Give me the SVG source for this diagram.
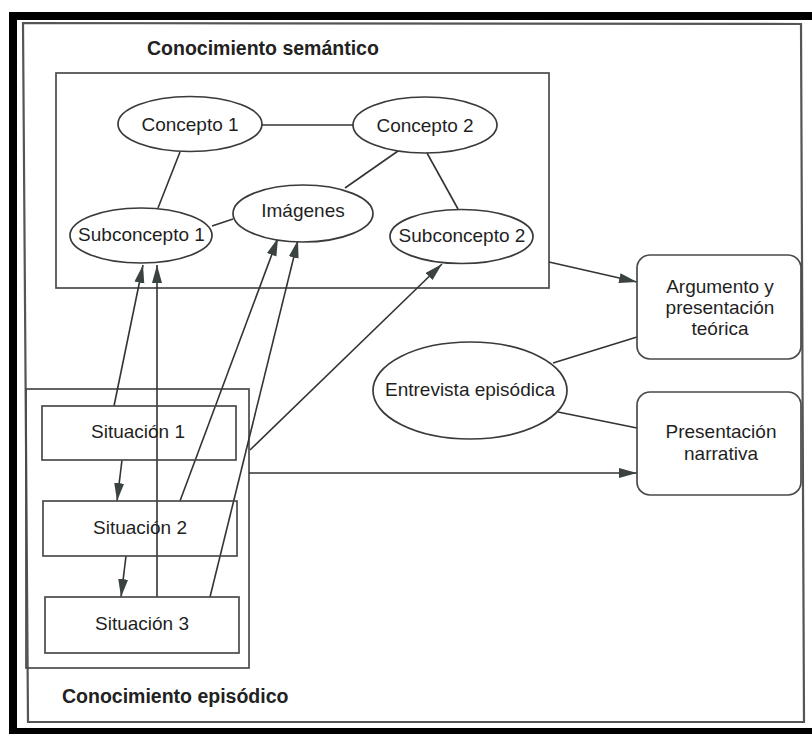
<svg xmlns="http://www.w3.org/2000/svg" width="812" height="734" viewBox="0 0 812 734">
  <style>
    .frame { fill: none; stroke: #555; stroke-width: 2.2; }
    .box { fill: none; stroke: #4a4a4a; stroke-width: 1.7; }
    .node { fill: #fff; stroke: #3a3a3a; stroke-width: 1.7; }
    .lbl { font-family: "Liberation Sans", Arial, sans-serif; font-size: 19px; fill: #1f1f1f; text-anchor: middle; }
    .head { font-family: "Liberation Sans", Arial, sans-serif; font-size: 19.5px; font-weight: bold; fill: #222; }
    .link { fill: none; stroke: #333; stroke-width: 1.6; }
    .arrow { fill: none; stroke: #333; stroke-width: 1.6; marker-end: url(#tip); }
  </style>
  <defs>
    <marker id="tip" markerUnits="userSpaceOnUse" markerWidth="19" markerHeight="11" refX="18" refY="5" orient="auto">
      <path d="M0,0 L18,5 L0,10 z" fill="#3b4242"/>
    </marker>
  </defs>

  <!-- page background and dark border -->
  <rect x="0" y="0" width="812" height="734" fill="#fff"/>
  <path d="M9,12 H812 V20 H17 V728 H812 V734 H9 Z" fill="#000"/>
  <polygon class="frame" points="23,23 801,24 804,722 28,722"/>

  <!-- region containers -->
  <g id="semantic-area">
    <rect class="box" x="56" y="73" width="493" height="215"/>
    <text class="head" x="147" y="55">Conocimiento semántico</text>
  </g>
  <g id="episodic-area">
    <rect class="box" x="26" y="389" width="223" height="279"/>
    <text class="head" x="62" y="703">Conocimiento episódico</text>
  </g>

  <!-- connectors -->
  <g id="connectors">
    <line class="link" x1="262" y1="125" x2="353" y2="125"/>
    <line class="link" x1="180" y1="152" x2="158" y2="208"/>
    <line class="link" x1="398" y1="151" x2="345" y2="188"/>
    <line class="link" x1="427" y1="153" x2="458" y2="209"/>
    <line class="link" x1="212" y1="226" x2="233" y2="219"/>
    <line class="link" x1="553" y1="363" x2="637" y2="337"/>
    <line class="link" x1="558" y1="412" x2="637" y2="428"/>

    <line class="arrow" x1="114" y1="406" x2="143" y2="265"/>
    <line class="arrow" x1="157" y1="597" x2="157" y2="265"/>
    <line class="arrow" x1="180" y1="501" x2="278" y2="238"/>
    <line class="arrow" x1="210" y1="597" x2="298" y2="240"/>
    <line class="arrow" x1="250" y1="450" x2="442" y2="264"/>
    <line class="arrow" x1="122" y1="460" x2="117" y2="501"/>
    <line class="arrow" x1="126" y1="556" x2="121" y2="597"/>
    <line class="arrow" x1="549" y1="262" x2="637" y2="282"/>
    <line class="arrow" x1="249" y1="473" x2="637" y2="473"/>
  </g>

  <!-- semantic knowledge nodes -->
  <g id="concepto-1">
    <ellipse class="node" cx="190" cy="124" rx="72" ry="27.5"/>
    <text class="lbl" x="190" y="131">Concepto 1</text>
  </g>
  <g id="concepto-2">
    <ellipse class="node" cx="425" cy="125" rx="72" ry="28"/>
    <text class="lbl" x="425" y="132">Concepto 2</text>
  </g>
  <g id="imagenes">
    <ellipse class="node" cx="303" cy="213.5" rx="70" ry="28.5"/>
    <text class="lbl" x="303" y="217">Imágenes</text>
  </g>
  <g id="subconcepto-1">
    <ellipse class="node" cx="141" cy="235.5" rx="71" ry="27.5"/>
    <text class="lbl" x="141.5" y="241">Subconcepto 1</text>
  </g>
  <g id="subconcepto-2">
    <ellipse class="node" cx="461.5" cy="236.5" rx="71.5" ry="27"/>
    <text class="lbl" x="462" y="242">Subconcepto 2</text>
  </g>

  <!-- episodic knowledge nodes -->
  <g id="situacion-1">
    <rect class="box" x="42" y="406" width="194" height="54"/>
    <text class="lbl" x="138" y="438">Situación 1</text>
  </g>
  <g id="situacion-2">
    <rect class="box" x="43" y="501" width="194" height="55"/>
    <text class="lbl" x="140" y="534">Situación 2</text>
  </g>
  <g id="situacion-3">
    <rect class="box" x="45" y="597" width="194" height="56"/>
    <text class="lbl" x="142" y="630">Situación 3</text>
  </g>

  <!-- interview and outputs -->
  <g id="entrevista">
    <ellipse class="node" cx="470" cy="390.5" rx="97" ry="48.5"/>
    <text class="lbl" x="470" y="396">Entrevista episódica</text>
  </g>
  <g id="argumento">
    <rect class="box" x="637" y="255" width="164" height="104" rx="13"/>
    <text class="lbl" x="720" y="293">Argumento y</text>
    <text class="lbl" x="720" y="314">presentación</text>
    <text class="lbl" x="720" y="335">teórica</text>
  </g>
  <g id="presentacion">
    <rect class="box" x="637" y="392" width="164" height="103" rx="13"/>
    <text class="lbl" x="721" y="438">Presentación</text>
    <text class="lbl" x="721" y="460">narrativa</text>
  </g>
</svg>
